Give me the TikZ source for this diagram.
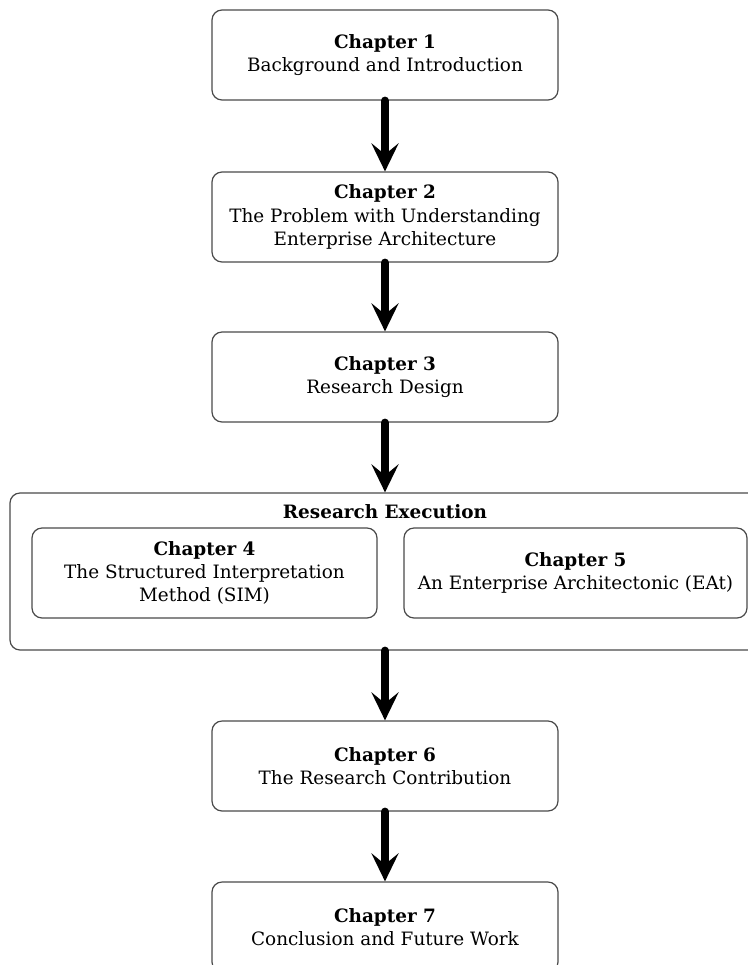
\documentclass[tikz,border=0pt]{standalone}
\usepackage{fontspec}
\setmainfont{DejaVu Serif}
\usetikzlibrary{arrows.meta}

\definecolor{boxline}{HTML}{4A4A4A}

\tikzset{
  chapbox/.style={draw=boxline, line width=0.6pt, rounded corners=5pt,
    minimum width=173pt, minimum height=45pt, align=center,
    font=\fontsize{9.2}{11.7}\selectfont, inner sep=0pt},
  groupbox/.style={draw=boxline, line width=0.6pt, rounded corners=5pt,
    minimum width=375pt, minimum height=78.5pt, inner sep=0pt},
  flow/.style={line width=4pt, line cap=round,
    -{Stealth[length=14pt, width=13.5pt, inset=5.5pt]}},
}

\begin{document}
\begin{tikzpicture}[x=0.5pt, y=-0.5pt]
  \useasboundingbox (0,0) rectangle (748,965);

  % main chain of chapters
  \node[chapbox] (c1) at (385,55)  {\textbf{Chapter 1}\\Background and Introduction};
  \node[chapbox] (c2) at (385,217) {\textbf{Chapter 2}\\The Problem with Understanding\\Enterprise Architecture};
  \node[chapbox] (c3) at (385,377) {\textbf{Chapter 3}\\Research Design};

  % research execution group
  \node[groupbox] (exec) at (385,571.5) {};
  \node[font=\fontsize{9.2}{11.7}\selectfont\bfseries, inner sep=0pt] (title) at (385,512) {Research Execution};
  \node[chapbox, minimum width=172.5pt] (c4) at (204.5,573) {\textbf{Chapter 4}\\The Structured Interpretation\\Method (SIM)};
  \node[chapbox, minimum width=171.5pt] (c5) at (575.5,573) {\textbf{Chapter 5}\\An Enterprise Architectonic (EAt)};

  \node[chapbox] (c6) at (385,766) {\textbf{Chapter 6}\\The Research Contribution};
  \node[chapbox] (c7) at (385,927) {\textbf{Chapter 7}\\Conclusion and Future Work};

  % connectors
  \draw[flow] (c1.south) -- (c2.north);
  \draw[flow] (c2.south) -- (c3.north);
  \draw[flow] (c3.south) -- (exec.north);
  \draw[flow] (exec.south) -- (c6.north);
  \draw[flow] (c6.south) -- (c7.north);
\end{tikzpicture}
\end{document}
